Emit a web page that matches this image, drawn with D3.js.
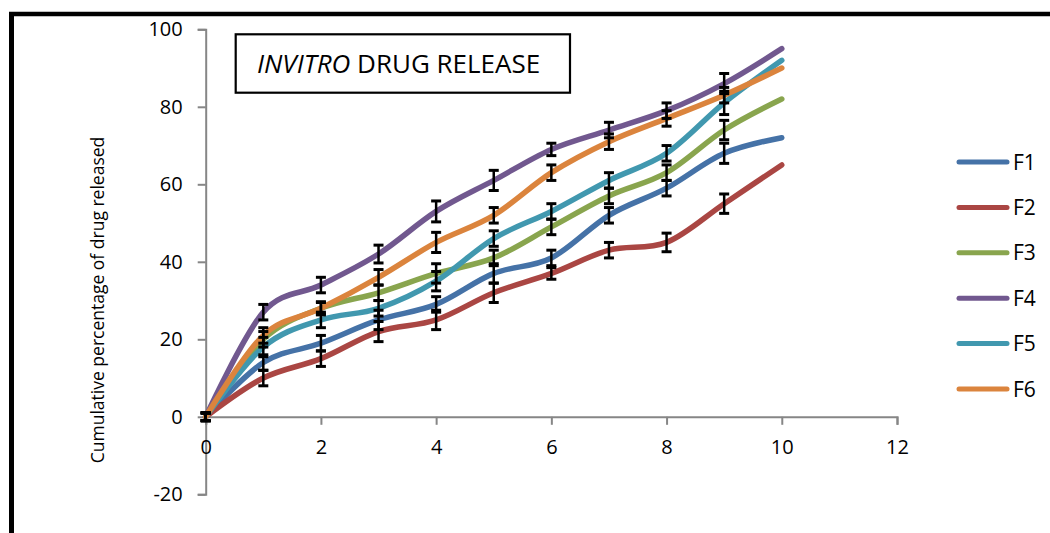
<!DOCTYPE html>
<html>
<head>
<meta charset="utf-8">
<script src="https://cdn.jsdelivr.net/npm/d3@7"></script>
<style>
  html, body { margin: 0; padding: 0; background: #fff; }
  svg { display: block; }
  text { font-family: "Open Sans", "DejaVu Sans", sans-serif; }
</style>
</head>
<body>
<svg id="chart" width="1050" height="533"></svg>
<script>
// ---- data ----
const times = [0, 1, 2, 3, 4, 5, 6, 7, 8, 9, 10];
const seriesNames = ["F1", "F2", "F3", "F4", "F5", "F6"];
const seriesColors = ["#4572A7", "#AA4643", "#89A54E", "#71588F", "#4198AF", "#DB843D"];
const F1 = [0, 14, 19, 25, 29, 37, 41, 52, 59, 68, 72];
const F2 = [0, 10, 15, 22, 25, 32, 37, 43, 45, 55, 65];
const F3 = [0, 20, 28, 32, 37, 41, 49, 57, 63, 74, 82];
const F4 = [0, 27, 34, 42, 53, 61, 69, 74, 79, 86, 95];
const F5 = [0, 18, 25, 28, 35, 46, 53, 61, 68, 81, 92];
const F6 = [0, 21, 28, 36, 45, 52, 63, 71, 77, 83, 90];
const errF1 = [1, 2, 2, 2.5, 2, 2.5, 2, 2, 2, 2.6, 0];
const errF2 = [1, 2, 2, 2.6, 2.5, 2.5, 1.5, 2, 2.4, 2.5, 0];
const errF3 = [1, 2, 1.5, 2, 2.5, 2, 2, 2, 2, 2.5, 0];
const errF4 = [1, 2, 2, 2.3, 2.7, 2.6, 1.6, 2, 2, 2.6, 0];
const errF5 = [1, 2.5, 2, 2, 2.5, 2, 2, 2, 2, 3, 0];
const errF6 = [1, 2, 1.7, 2, 2.6, 2, 2, 2, 2, 2, 0];
const xTicks = [0, 2, 4, 6, 8, 10, 12];
const yTicks = [-20, 0, 20, 40, 60, 80, 100];
const titleItalic = "INVITRO";
const titleRest = " DRUG RELEASE";
const yLabel = "Cumulative percentage of drug released";

const values = [F1, F2, F3, F4, F5, F6];
const errors = [errF1, errF2, errF3, errF4, errF5, errF6];

const svg = d3.select("#chart");

// outer frame
svg.append("line").attr("x1", 9).attr("x2", 1052).attr("y1", 14).attr("y2", 14)
  .attr("stroke", "#000").attr("stroke-width", 4.5);
svg.append("line").attr("x1", 11.5).attr("x2", 11.5).attr("y1", 12).attr("y2", 540)
  .attr("stroke", "#000").attr("stroke-width", 5);

const x = d3.scaleLinear().domain([0, 12]).range([205.7, 897]);
const y = d3.scaleLinear().domain([-20, 100]).range([494.3, 29.3]);
const axisColor = "#868686";
const fmt = d => String(d);

// y axis
const gy = svg.append("g").attr("transform", `translate(${x(0)},0)`)
  .call(d3.axisLeft(y).tickValues(yTicks).tickSize(8).tickPadding(15).tickFormat(fmt));
gy.select(".domain").attr("stroke", axisColor).attr("stroke-width", 2);
gy.selectAll(".tick line").attr("stroke", axisColor).attr("stroke-width", 2);
gy.selectAll(".tick text").attr("font-size", 20).attr("fill", "#000")
  .attr("font-family", "'Open Sans', sans-serif");

// x axis at y=0
const gx = svg.append("g").attr("transform", `translate(0,${y(0)})`)
  .call(d3.axisBottom(x).tickValues(xTicks).tickSize(8).tickPadding(15).tickFormat(fmt));
gx.select(".domain").attr("stroke", axisColor).attr("stroke-width", 2);
gx.selectAll(".tick line").attr("stroke", axisColor).attr("stroke-width", 2);
gx.selectAll(".tick text").attr("font-size", 20).attr("fill", "#000")
  .attr("font-family", "'Open Sans', sans-serif");

// y label
svg.append("text")
  .attr("transform", `translate(104,300) rotate(-90)`)
  .attr("text-anchor", "middle")
  .attr("font-size", 17.5)
  .attr("fill", "#000")
  .text(yLabel);

// title box
svg.append("rect").attr("x", 235.7).attr("y", 34.3).attr("width", 334.3).attr("height", 58.4)
  .attr("fill", "#fff").attr("stroke", "#000").attr("stroke-width", 2.2);
const t = svg.append("text").attr("x", 257).attr("y", 73).attr("font-size", 26).attr("fill", "#000");
t.append("tspan").attr("font-style", "italic").text(titleItalic);
t.append("tspan").text(titleRest);

// lines
const line = d3.line()
  .x((d, i) => x(times[i]))
  .y(d => y(d))
  .curve(d3.curveCardinal.tension(0));

values.forEach((vals, si) => {
  svg.append("path")
    .attr("d", line(vals))
    .attr("fill", "none")
    .attr("stroke", seriesColors[si])
    .attr("stroke-width", 5.5)
    .attr("stroke-linecap", "round")
    .attr("stroke-linejoin", "round");
});

// error bars
values.forEach((vals, si) => {
  const g = svg.append("g");
  vals.forEach((v, i) => {
    const e = errors[si][i];
    if (!e) return;
    const cx = x(times[i]);
    g.append("line").attr("x1", cx).attr("x2", cx).attr("y1", y(v - e)).attr("y2", y(v + e))
      .attr("stroke", "#000").attr("stroke-width", 2.5);
    [v - e, v + e].forEach(b => {
      g.append("line").attr("x1", cx - 5).attr("x2", cx + 5).attr("y1", y(b)).attr("y2", y(b))
        .attr("stroke", "#000").attr("stroke-width", 3);
    });
  });
});

// legend
const legendY = d3.scalePoint().domain(seriesNames).range([162, 389]);
seriesNames.forEach((name, si) => {
  const ly = legendY(name);
  svg.append("line").attr("x1", 959).attr("x2", 1007).attr("y1", ly).attr("y2", ly)
    .attr("stroke", seriesColors[si]).attr("stroke-width", 5).attr("stroke-linecap", "round");
  svg.append("text").attr("x", 1013).attr("y", ly + 7.5).attr("font-size", 21).attr("fill", "#000").text(name);
});
</script>
</body>
</html>
